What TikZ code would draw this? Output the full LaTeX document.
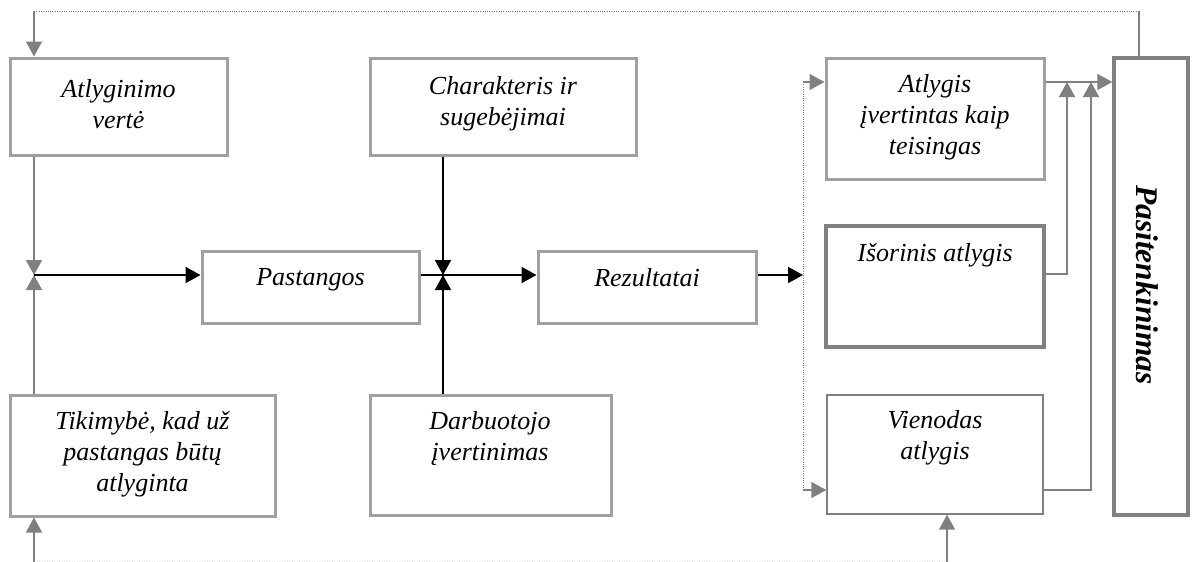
\documentclass[tikz,border=0pt]{standalone}
\usepackage{fontspec}
\setmainfont{Liberation Serif}
\usetikzlibrary{arrows.meta,fit}
\definecolor{boxgray}{RGB}{160,160,160}
\definecolor{dgray}{RGB}{128,128,128}
\begin{document}
\begin{tikzpicture}[x=1pt,y=-1pt,
 box/.style={draw=boxgray,line width=3pt,inner sep=0pt},
 dbox/.style={draw=dgray,line width=3.4pt,inner sep=0pt},
 tbox/.style={draw=dgray,line width=1.4pt,inner sep=0pt},
 txt/.style={font=\fontsize{26}{31}\selectfont\itshape,align=center,inner sep=0pt},
 btxt/.style={font=\fontsize{31.5}{36}\selectfont\bfseries\itshape,inner sep=0pt},
 garr/.style={draw=dgray,line width=1.5pt,-{Triangle[length=15pt,width=16pt]}},
 gline/.style={draw=dgray,line width=1.5pt},
 barr/.style={draw=black,line width=2pt,-{Triangle[length=15pt,width=16pt]}},
 dots/.style={draw=dgray,line width=1pt,dash pattern=on 1pt off 1.3pt},
 faint/.style={draw=dgray!20,line width=0.8pt,dash pattern=on 1pt off 1.5pt},
]
\fill[white] (0,0) rectangle (1197,562);
\useasboundingbox (0,0) rectangle (1197,562);

% boxes
\node[box,fit={(10,58) (227,155)}] (atl) {};
\node[box,fit={(370,58) (636,155)}] (char) {};
\node[box,fit={(202,251) (419,323)}] (pas) {};
\node[box,fit={(538,251) (756,323)}] (rez) {};
\node[box,fit={(10,395) (275,516)}] (tik) {};
\node[box,fit={(370,395) (611,515)}] (dar) {};
\node[box,fit={(826,58) (1044,179)}] (atg) {};
\node[dbox,fit={(826,226) (1044,347)}] (isor) {};
\node[tbox,fit={(827,395) (1043,514)}] (vien) {};
\node[dbox,fit={(1114,58) (1188,515)}] (pasit) {};

% texts
\node[txt] (atlT) at (118.5,104) {Atlyginimo\\vertė};
\node[txt] (charT) at (503,104) {Charakteris ir\\sugebėjimai};
\node[txt] (pasT) at (310.5,280) {Pastangos};
\node[txt] (rezT) at (647,278) {Rezultatai};
\node[txt] (tikT) at (142.5,454) {Tikimybė, kad už\\pastangas būtų\\atlyginta};
\node[txt] (darT) at (490,438.5) {Darbuotojo\\įvertinimas};
\node[txt] (atgT) at (935,117.5) {Atlygis\\įvertintas kaip\\teisingas};
\node[txt] (isorT) at (935,255) {Išorinis atlygis};
\node[txt] (vienT) at (935,437.5) {Vienodas\\atlygis};
\node[btxt,rotate=-90] (pasitT) at (1147,285) {Pasitenkinimas};

% points
\coordinate (J1) at (34,275);
\coordinate (J2) at (443,275);
\coordinate (fbR) at (1139,11);
\coordinate (fbL) at (34,11);
\coordinate (B1) at (34,562);
\coordinate (B2) at (947,562);
\coordinate (F1) at (34,561);
\coordinate (F2) at (947,561);
\coordinate (R) at (803,275);
\coordinate (D1) at (803,82);
\coordinate (D2) at (803,490);
\coordinate (V1) at (1067,274);
\coordinate (V2) at (1091,490);

% feedback loop
\draw[gline] (pasit.north -| fbR) -- (fbR);
\draw[dots] (fbR) -- (fbL);
\draw[garr] (fbL) -- (atl.north -| fbL);
\draw[faint] (F1) -- (F2);

% left part
\draw[garr] (atl.south -| J1) -- (J1);
\draw[garr] (tik.north -| J1) -- (J1);
\draw[garr] (B1) -- (tik.south -| B1);
\draw[barr] (J1) -- (pas.west |- J1);
\draw[barr] (pas.east |- J2) -- (rez.west |- J2);
\draw[barr] (char.south -| J2) -- (J2);
\draw[barr] (dar.north -| J2) -- (J2);
\draw[barr] (rez.east |- R) -- (R);

% right part
\draw[dots] (D1) -- (D2);
\draw[garr] (D1) -- (atg.west |- D1);
\draw[garr] (D2) -- (vien.west |- D2);
\draw[garr] (atg.east |- D1) -- (pasit.west |- D1);
\draw[garr] (isor.east |- V1) -- (V1) -- (V1 |- D1);
\draw[garr] (vien.east |- V2) -- (V2) -- (V2 |- D1);
\draw[garr] (B2) -- (vien.south -| B2);
\end{tikzpicture}
\end{document}
